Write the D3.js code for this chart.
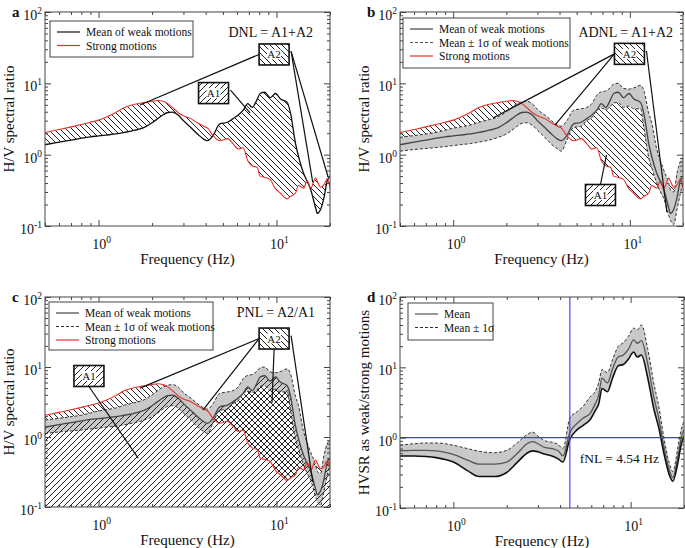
<!DOCTYPE html>
<html>
<head>
<meta charset="utf-8">
<script src="https://cdnjs.cloudflare.com/ajax/libs/d3/7.8.5/d3.min.js"></script>
<style>
  body { margin: 0; background: #fff; }
  text { font-family: "Liberation Serif", "Times New Roman", serif; fill: #111; }
</style>
</head>
<body>
<svg id="canvas" width="685" height="548"></svg>
<script>
/************* Data **************/
// common frequency grid (Hz) for panels a-c
var freq = [0.5, 0.6, 0.7, 0.8, 0.9, 1.0, 1.1, 1.25, 1.4, 1.6, 1.8, 2.0, 2.15, 2.3, 2.45, 2.6, 2.8, 3.0, 3.3, 3.6,
            3.9, 4.1, 4.4, 4.8, 5.3, 5.7, 6.1, 6.5, 6.9, 7.3, 7.8, 8.1, 8.6, 9.2, 9.9, 10.5, 11.5, 12.0, 12.8, 13.3,
            14.2, 14.9, 15.6, 16.6, 17.0, 17.7, 18.5, 19.3, 20];
// mean of weak motions
var weakMean = [1.38, 1.5, 1.6, 1.7, 1.78, 1.83, 1.88, 1.95, 2.05, 2.2, 2.4, 2.8, 3.2, 3.6, 3.9, 3.95, 3.6, 3.0, 2.4, 1.95,
                1.65, 1.57, 1.85, 2.7, 2.85, 3.2, 3.6, 4.2, 5.2, 4.6, 6.0, 7.2, 7.5, 6.3, 7.2, 6.1, 5.4, 3.8, 1.43, 0.95,
                0.55, 0.42, 0.32, 0.18, 0.15, 0.17, 0.25, 0.43, 0.5];
// mean + 1 sigma
var weakUpper = [1.75, 1.85, 1.95, 2.05, 2.2, 2.35, 2.45, 2.6, 2.85, 3.1, 3.4, 4.0, 4.6, 5.2, 5.5, 5.6, 5.2, 4.3, 3.6, 3.0,
                 2.6, 2.5, 3.0, 4.2, 4.4, 4.6, 5.2, 6.8, 7.6, 7.8, 8.8, 9.8, 10, 8.5, 8.3, 8.6, 9.4, 8.0, 3.8, 2.8,
                 1.2, 0.82, 0.6, 0.4, 0.32, 0.3, 0.55, 0.8, 0.9];
// mean - 1 sigma
var weakLower = [1.12, 1.18, 1.22, 1.26, 1.3, 1.34, 1.38, 1.43, 1.5, 1.6, 1.75, 1.95, 2.2, 2.5, 2.75, 2.8, 2.6, 2.2, 1.75, 1.4,
                 1.2, 1.12, 1.6, 2.4, 2.5, 3.0, 3.3, 4.2, 4.5, 4.3, 4.8, 5.3, 5.4, 4.6, 4.8, 4.4, 4.4, 2.4, 0.9, 0.66,
                 0.4, 0.3, 0.24, 0.14, 0.12, 0.105, 0.17, 0.28, 0.4];
// strong motions
var strong = [2.04, 2.25, 2.45, 2.65, 2.85, 3.05, 3.35, 3.9, 4.6, 5.1, 5.4, 5.6, 5.75, 5.6, 5.2, 4.6, 3.9, 3.5, 3.2, 2.8,
              2.5, 2.35, 1.85, 1.57, 1.68, 1.43, 1.2, 1.25, 0.82, 0.7, 0.66, 0.5, 0.48, 0.45, 0.33, 0.29, 0.24, 0.26, 0.29, 0.37,
              0.34, 0.43, 0.34, 0.47, 0.42, 0.35, 0.38, 0.46, 0.34];

// panel d: HVSR weak/strong
var dFreq  = [0.5, 0.6, 0.7, 0.8, 0.9, 1.0, 1.2, 1.4, 1.7, 2.0, 2.3, 2.6, 2.8, 3.0, 3.3, 3.6, 3.9, 4.15, 4.54, 5.0, 5.4,
              5.9, 6.3, 6.6, 6.9, 7.4, 7.9, 8.5, 9.1, 9.7, 10.4, 10.9, 11.5, 12.5, 13.5, 14.4, 15.4, 16.5, 17.3, 18.5, 19.3, 20];
var dMean  = [0.65, 0.66, 0.66, 0.65, 0.62, 0.58, 0.48, 0.42, 0.42, 0.45, 0.6, 0.82, 0.88, 0.82, 0.72, 0.7, 0.65, 0.55, 1.18, 1.6, 1.9,
              2.2, 3.0, 4.0, 7.0, 6.0, 9.5, 14, 15, 18, 24.5, 22, 24, 11, 3.8, 1.9, 0.75, 0.35, 0.27, 0.55, 1.0, 1.3];
var dUpper = [0.78, 0.82, 0.84, 0.84, 0.82, 0.78, 0.7, 0.64, 0.61, 0.66, 0.85, 1.1, 1.2, 1.05, 0.9, 0.86, 0.8, 0.7, 1.9, 2.35, 2.8,
              3.8, 4.5, 6.0, 9.3, 8.4, 12.8, 19.7, 22.4, 27.4, 36, 34, 40, 18, 6, 2.8, 1.0, 0.44, 0.33, 0.75, 1.3, 1.7];
var dLower = [0.55, 0.55, 0.54, 0.52, 0.49, 0.45, 0.34, 0.28, 0.28, 0.32, 0.45, 0.6, 0.65, 0.63, 0.58, 0.55, 0.5, 0.45, 0.95, 1.3, 1.5,
              1.8, 2.4, 3.0, 5.0, 4.5, 7, 10.5, 11, 13, 16.5, 14, 15, 7, 2.6, 1.4, 0.6, 0.3, 0.24, 0.45, 0.8, 1.05];
var fNL = 4.54;

// axes
var xDomain = [0.5, 20];
var yDomain = [0.1, 100];
var xMajor = [1, 10];
var yMajor = [0.1, 1, 10, 100];

// annotation boxes: centre (freq, value) and leader targets [side, freq, value]
var annA = [
  {label: "A2", hatch: "back", f: 9.7, v: 25.4, leaders: [["l", 1.71, 4.97], ["r", 16.0, 0.41], ["r", 19.5, 0.49]]},
  {label: "A1", hatch: "fwd", f: 4.43, v: 7.3, leaders: [["r", 7.1, 3.84]]}
];
var annB = [
  {label: "A2", hatch: "back", f: 9.95, v: 25.9, leaders: [["l", 1.68, 3.27], ["l", 3.77, 2.6], ["r", 16.2, 0.157]]},
  {label: "A1", hatch: "fwd", f: 6.82, v: 0.272, leaders: [["t", 7.38, 0.99]]}
];
var annC = [
  {label: "A2", hatch: "back", f: 9.7, v: 25.5, leaders: [["l", 1.71, 5.0], ["l", 3.86, 2.43], ["b", 9.44, 3.06], ["r", 16.0, 0.228]]},
  {label: "A1", hatch: "fwd", f: 0.883, v: 7.44, leaders: [["b", 1.67, 0.5]]}
];

var RED = "#e8302a";
var GRAY = "#c9c9c9";

/********** Initialisation *********/
var svg = d3.select("#canvas");
var defs = svg.append("defs");

function hatch(id, dir)
{
    var p = defs.append("pattern")
        .attr("id", id)
        .attr("patternUnits", "userSpaceOnUse")
        .attr("width", 6)
        .attr("height", 6);
    var d = dir == "back" ? "M0,0L6,6M-1,5L1,7M5,-1L7,1" : "M0,6L6,0M-1,1L1,-1M5,7L7,5";
    p.append("path").attr("d", d).attr("stroke", "#222").attr("stroke-width", 1);
}
hatch("hatchBack", "back");
hatch("hatchFwd", "fwd");

var pid = 0;
function makePanel(left, top, right, bottom)
{
    pid++;
    var w = right - left, h = bottom - top;
    var g = svg.append("g").attr("transform", "translate(" + left + "," + top + ")");
    var x = d3.scaleLog().domain(xDomain).range([0, w]);
    var y = d3.scaleLog().domain(yDomain).range([h, 0]);
    defs.append("clipPath").attr("id", "clip" + pid)
        .append("rect").attr("width", w).attr("height", h);
    var plot = g.append("g").attr("clip-path", "url(#clip" + pid + ")");
    return {g: g, plot: plot, x: x, y: y, w: w, h: h};
}

function supLabel(sel, e)
{
    sel.append("tspan").text("10");
    sel.append("tspan").attr("dy", -6).attr("font-size", 9.5).text(e);
}

function drawAxes(p, letter, yTitle, yTitleX)
{
    var xMinor = p.x.ticks().filter(function(d) { return xMajor.indexOf(d) < 0; });
    var yMinor = p.y.ticks().filter(function(d) { return yMajor.indexOf(d) < 0; });
    function tickAxis(axis, tr, vals, size)
    {
        p.g.append("g").attr("transform", tr).attr("color", "#444")
            .call(axis.tickValues(vals).tickSize(-size).tickFormat(""))
            .call(function(s) { s.select(".domain").remove(); });
    }
    [[xMajor, 6], [xMinor, 3]].forEach(function(t) {
        tickAxis(d3.axisBottom(p.x), "translate(0," + p.h + ")", t[0], t[1]);
        tickAxis(d3.axisTop(p.x), "translate(0,0)", t[0], t[1]);
    });
    [[yMajor, 6], [yMinor, 3]].forEach(function(t) {
        tickAxis(d3.axisLeft(p.y), "translate(0,0)", t[0], t[1]);
        tickAxis(d3.axisRight(p.y), "translate(" + p.w + ",0)", t[0], t[1]);
    });
    p.g.append("rect").attr("width", p.w).attr("height", p.h)
        .attr("fill", "none").attr("stroke", "#444").attr("stroke-width", 1);

    yMajor.forEach(function(v) {
        var t = p.g.append("text").attr("x", -3).attr("y", p.y(v) + 8)
            .attr("text-anchor", "end").attr("font-size", 14);
        supLabel(t, Math.round(Math.log10(v)));
    });
    xMajor.forEach(function(v) {
        var t = p.g.append("text").attr("x", p.x(v) + 3).attr("y", p.h + 23)
            .attr("text-anchor", "middle").attr("font-size", 14);
        supLabel(t, Math.round(Math.log10(v)));
    });
    p.g.append("text").attr("x", p.w / 2).attr("y", p.h + 38)
        .attr("text-anchor", "middle").attr("font-size", 15).text("Frequency (Hz)");
    p.g.append("text")
        .attr("transform", "translate(" + yTitleX + "," + (p.h / 2) + ") rotate(-90)")
        .attr("text-anchor", "middle").attr("font-size", 15).text(yTitle);
    p.g.append("text").attr("x", yTitleX - 2).attr("y", 5)
        .attr("font-size", 15).attr("font-weight", "bold").text(letter);
}

function lineGen(p, vals, fr)
{
    fr = fr || freq;
    return d3.line()
        .x(function(d, i) { return p.x(fr[i]); })
        .y(function(d) { return p.y(d); })
        .curve(d3.curveMonotoneX)(vals);
}

function areaGen(p, lo, hi, fr)
{
    fr = fr || freq;
    return d3.area()
        .x(function(d, i) { return p.x(fr[i]); })
        .y0(function(d, i) { return p.y(lo(i)); })
        .y1(function(d, i) { return p.y(hi(i)); })
        .curve(d3.curveMonotoneX)(fr);
}

function clampToBand(i) { return Math.max(weakLower[i], Math.min(weakUpper[i], strong[i])); }

function legend(p, bx, by, bw, bh, items)
{
    var lg = p.g.append("g").attr("transform", "translate(" + bx + "," + by + ")");
    lg.append("rect").attr("width", bw).attr("height", bh)
        .attr("fill", "#fff").attr("stroke", "#444").attr("stroke-width", 1);
    items.forEach(function(it, i) {
        var yy = 11 + i * 13.5;
        lg.append("line").attr("x1", 7).attr("x2", 30).attr("y1", yy).attr("y2", yy)
            .attr("stroke", it.color).attr("stroke-width", it.width || 1.2)
            .attr("stroke-dasharray", it.dash || null);
        lg.append("text").attr("x", 36).attr("y", yy + 4).attr("font-size", 11.5).text(it.text);
    });
}

function annotate(p, list)
{
    var bw = 30, bh = 21;
    list.forEach(function(a) {
        var cx = p.x(a.f), cy = p.y(a.v);
        a.leaders.forEach(function(l) {
            var sx = cx, sy = cy;
            if (l[0] == "l") sx = cx - bw / 2;
            if (l[0] == "r") { sx = cx + bw / 2 + 2; sy = cy - 3; }
            if (l[0] == "t") sy = cy - bh / 2;
            if (l[0] == "b") sy = cy + bh / 2;
            p.g.append("line").attr("x1", sx).attr("y1", sy)
                .attr("x2", p.x(l[1])).attr("y2", p.y(l[2]))
                .attr("stroke", "#111").attr("stroke-width", 1.2);
        });
        p.g.append("rect").attr("x", cx - bw / 2).attr("y", cy - bh / 2)
            .attr("width", bw).attr("height", bh).attr("fill", "#fff");
        p.g.append("rect").attr("x", cx - bw / 2).attr("y", cy - bh / 2)
            .attr("width", bw).attr("height", bh)
            .attr("fill", a.hatch == "back" ? "url(#hatchBack)" : "url(#hatchFwd)")
            .attr("stroke", "#111").attr("stroke-width", 1.6);
        p.g.append("rect").attr("x", cx - 7).attr("y", cy - 5).attr("width", 14).attr("height", 10)
            .attr("fill", "#fff");
        p.g.append("text").attr("x", cx).attr("y", cy + 4)
            .attr("text-anchor", "middle").attr("font-size", 11).text(a.label);
    });
}

/************* Panel a *************/
var pa = makePanel(45, 12, 330, 226);
pa.plot.append("path")
    .attr("d", areaGen(pa, function(i) { return strong[i]; }, function(i) { return weakMean[i]; }))
    .attr("fill", "url(#hatchBack)");
pa.plot.append("path").attr("d", lineGen(pa, weakMean)).attr("fill", "none")
    .attr("stroke", "#111").attr("stroke-width", 1.3);
pa.plot.append("path").attr("d", lineGen(pa, strong)).attr("fill", "none")
    .attr("stroke", RED).attr("stroke-width", 1.1);
drawAxes(pa, "a", "H/V spectral ratio", -31);
legend(pa, 5, 9, 143, 36, [
    {text: "Mean of weak motions", color: "#111"},
    {text: "Strong motions", color: RED}
]);
pa.g.append("text").attr("x", pa.w - 17).attr("y", 25).attr("text-anchor", "end")
    .attr("font-size", 14).text("DNL = A1+A2");
annotate(pa, annA);

/************* Panel b *************/
var pb = makePanel(400, 12, 683, 226);
pb.plot.append("path")
    .attr("d", areaGen(pb, function(i) { return weakLower[i]; }, function(i) { return weakUpper[i]; }))
    .attr("fill", GRAY);
pb.plot.append("path")
    .attr("d", areaGen(pb, function(i) { return strong[i]; }, clampToBand))
    .attr("fill", "url(#hatchBack)");
pb.plot.append("path").attr("d", lineGen(pb, weakUpper)).attr("fill", "none")
    .attr("stroke", "#333").attr("stroke-width", 1).attr("stroke-dasharray", "3,2");
pb.plot.append("path").attr("d", lineGen(pb, weakLower)).attr("fill", "none")
    .attr("stroke", "#333").attr("stroke-width", 1).attr("stroke-dasharray", "3,2");
pb.plot.append("path").attr("d", lineGen(pb, weakMean)).attr("fill", "none")
    .attr("stroke", "#444").attr("stroke-width", 1.3);
pb.plot.append("path").attr("d", lineGen(pb, strong)).attr("fill", "none")
    .attr("stroke", RED).attr("stroke-width", 1.1);
drawAxes(pb, "b", "H/V spectral ratio", -31);
legend(pb, 3, 6, 167, 50, [
    {text: "Mean of weak motions", color: "#444"},
    {text: "Mean \u00b1 1\u03c3 of weak motions", color: "#555", dash: "3,2"},
    {text: "Strong motions", color: RED}
]);
pb.g.append("text").attr("x", pb.w - 10).attr("y", 25).attr("text-anchor", "end")
    .attr("font-size", 14).text("ADNL = A1+A2");
annotate(pb, annB);

/************* Panel c *************/
var pc = makePanel(45, 297, 330, 507);
pc.plot.append("path")
    .attr("d", areaGen(pc, function(i) { return weakLower[i]; }, function(i) { return weakUpper[i]; }))
    .attr("fill", GRAY);
pc.plot.append("path")
    .attr("d", areaGen(pc, function(i) { return yDomain[0]; }, function(i) { return weakMean[i]; }))
    .attr("fill", "url(#hatchFwd)");
pc.plot.append("path")
    .attr("d", areaGen(pc, function(i) { return strong[i]; }, clampToBand))
    .attr("fill", "url(#hatchBack)");
pc.plot.append("path").attr("d", lineGen(pc, weakUpper)).attr("fill", "none")
    .attr("stroke", "#333").attr("stroke-width", 1).attr("stroke-dasharray", "3,2");
pc.plot.append("path").attr("d", lineGen(pc, weakLower)).attr("fill", "none")
    .attr("stroke", "#333").attr("stroke-width", 1).attr("stroke-dasharray", "3,2");
pc.plot.append("path").attr("d", lineGen(pc, weakMean)).attr("fill", "none")
    .attr("stroke", "#444").attr("stroke-width", 1.3);
pc.plot.append("path").attr("d", lineGen(pc, strong)).attr("fill", "none")
    .attr("stroke", RED).attr("stroke-width", 1.1);
drawAxes(pc, "c", "H/V spectral ratio", -31);
legend(pc, 4, 5, 164, 48, [
    {text: "Mean of weak motions", color: "#444"},
    {text: "Mean \u00b1 1\u03c3 of weak motions", color: "#333", dash: "3,2"},
    {text: "Strong motions", color: RED}
]);
pc.g.append("text").attr("x", pc.w - 15).attr("y", 20).attr("text-anchor", "end")
    .attr("font-size", 14).text("PNL = A2/A1");
annotate(pc, annC);

/************* Panel d *************/
var pd = makePanel(400, 297, 684, 508);
pd.plot.append("path")
    .attr("d", areaGen(pd, function(i) { return dLower[i]; }, function(i) { return dUpper[i]; }, dFreq))
    .attr("fill", GRAY);
pd.plot.append("path").attr("d", lineGen(pd, dUpper, dFreq)).attr("fill", "none")
    .attr("stroke", "#333").attr("stroke-width", 1).attr("stroke-dasharray", "3,2");
pd.plot.append("path").attr("d", lineGen(pd, dMean, dFreq)).attr("fill", "none")
    .attr("stroke", "#555").attr("stroke-width", 1.3);
pd.plot.append("path").attr("d", lineGen(pd, dLower, dFreq)).attr("fill", "none")
    .attr("stroke", "#111").attr("stroke-width", 1.6);
pd.plot.append("line").attr("x1", pd.x(fNL)).attr("x2", pd.x(fNL)).attr("y1", 0).attr("y2", pd.h)
    .attr("stroke", "#3a3aff").attr("stroke-width", 1.1);
pd.plot.append("line").attr("x1", 0).attr("x2", pd.w).attr("y1", pd.y(1)).attr("y2", pd.y(1))
    .attr("stroke", "#3a3aff").attr("stroke-width", 1.1);
drawAxes(pd, "d", "HVSR as weak/strong motions", -31);
legend(pd, 8, 6, 85, 37, [
    {text: "Mean", color: "#555"},
    {text: "Mean \u00b1 1\u03c3", color: "#333", dash: "3,2"}
]);
pd.g.append("text").attr("x", pd.x(fNL) + 10).attr("y", pd.y(1) + 25)
    .attr("font-size", 13.5).text("fNL = " + fNL + " Hz");
</script>
</body>
</html>
